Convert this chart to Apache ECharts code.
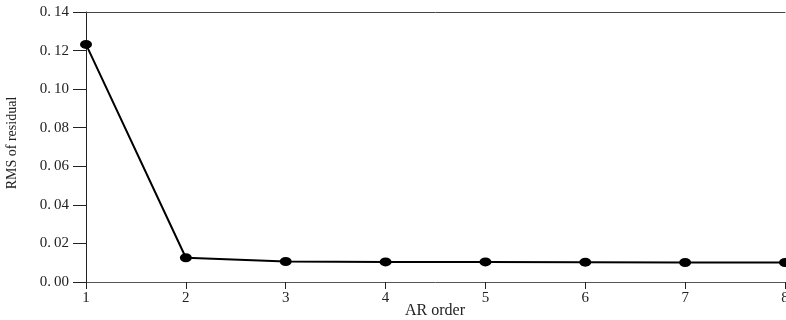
<!DOCTYPE html>
<html><head><meta charset="utf-8">
<script src="https://cdn.jsdelivr.net/npm/echarts@6/dist/echarts.min.js"></script>
<style>html,body{margin:0;padding:0;background:#fff}#c{width:786px;height:320px}</style>
</head><body><div id="c"></div>
<script>
const categories = [1, 2, 3, 4, 5, 6, 7, 8];
const rmsValues = [0.1232, 0.01255, 0.01065, 0.0104, 0.0104, 0.0103, 0.0101, 0.0101];
const yTicks = [0, 0.02, 0.04, 0.06, 0.08, 0.10, 0.12, 0.14];
const xTitle = 'AR order';
const yTitle = 'RMS of residual';

const font = '"Liberation Serif", "DejaVu Serif", serif';
const chart = echarts.init(document.getElementById('c'), null, {renderer: 'canvas'});
chart.setOption({
  animation: false,
  grid: {left: 86, right: 1, top: 12, bottom: 38, outerBoundsMode: 'none', containLabel: false},
  graphic: [{
    type: 'text', left: 405, top: 303,
    style: {text: xTitle, font: '16px ' + font, fill: '#222'}
  }],
  xAxis: [{
    type: 'value', min: 1, max: 8, interval: 1,
    axisLine: {show: true, lineStyle: {color: '#555', width: 1}},
    axisTick: {show: true, length: 7, lineStyle: {color: '#222'}},
    axisLabel: {fontFamily: font, fontSize: 15, color: '#222', margin: 9},
    splitLine: {show: false}
  }, {
    type: 'value', min: 1, max: 8, position: 'top',
    axisLine: {show: true, onZero: false, lineStyle: {color: '#444', width: 1}},
    axisTick: {show: false}, axisLabel: {show: false}, splitLine: {show: false}
  }],
  yAxis: {
    type: 'value', min: yTicks[0], max: yTicks[yTicks.length - 1], interval: 0.02,
    name: yTitle, nameLocation: 'middle', nameGap: 67, nameRotate: 90,
    nameTextStyle: {fontFamily: font, fontSize: 14, color: '#222', padding: [0, 0, 0, 8]},
    axisLine: {show: true, lineStyle: {color: '#222', width: 1}},
    axisTick: {show: true, length: 13, lineStyle: {color: '#222'}},
    axisLabel: {fontFamily: font, fontSize: 15, color: '#222', margin: 17,
      formatter: v => v.toFixed(2).replace('.', '.\u2009')},
    splitLine: {show: false}
  },
  series: [{
    type: 'line',
    data: categories.map((c, i) => [c, rmsValues[i]]),
    symbol: 'circle', symbolSize: [12, 9],
    lineStyle: {color: '#000', width: 2},
    itemStyle: {color: '#000'}
  }]
});
</script></body></html>
